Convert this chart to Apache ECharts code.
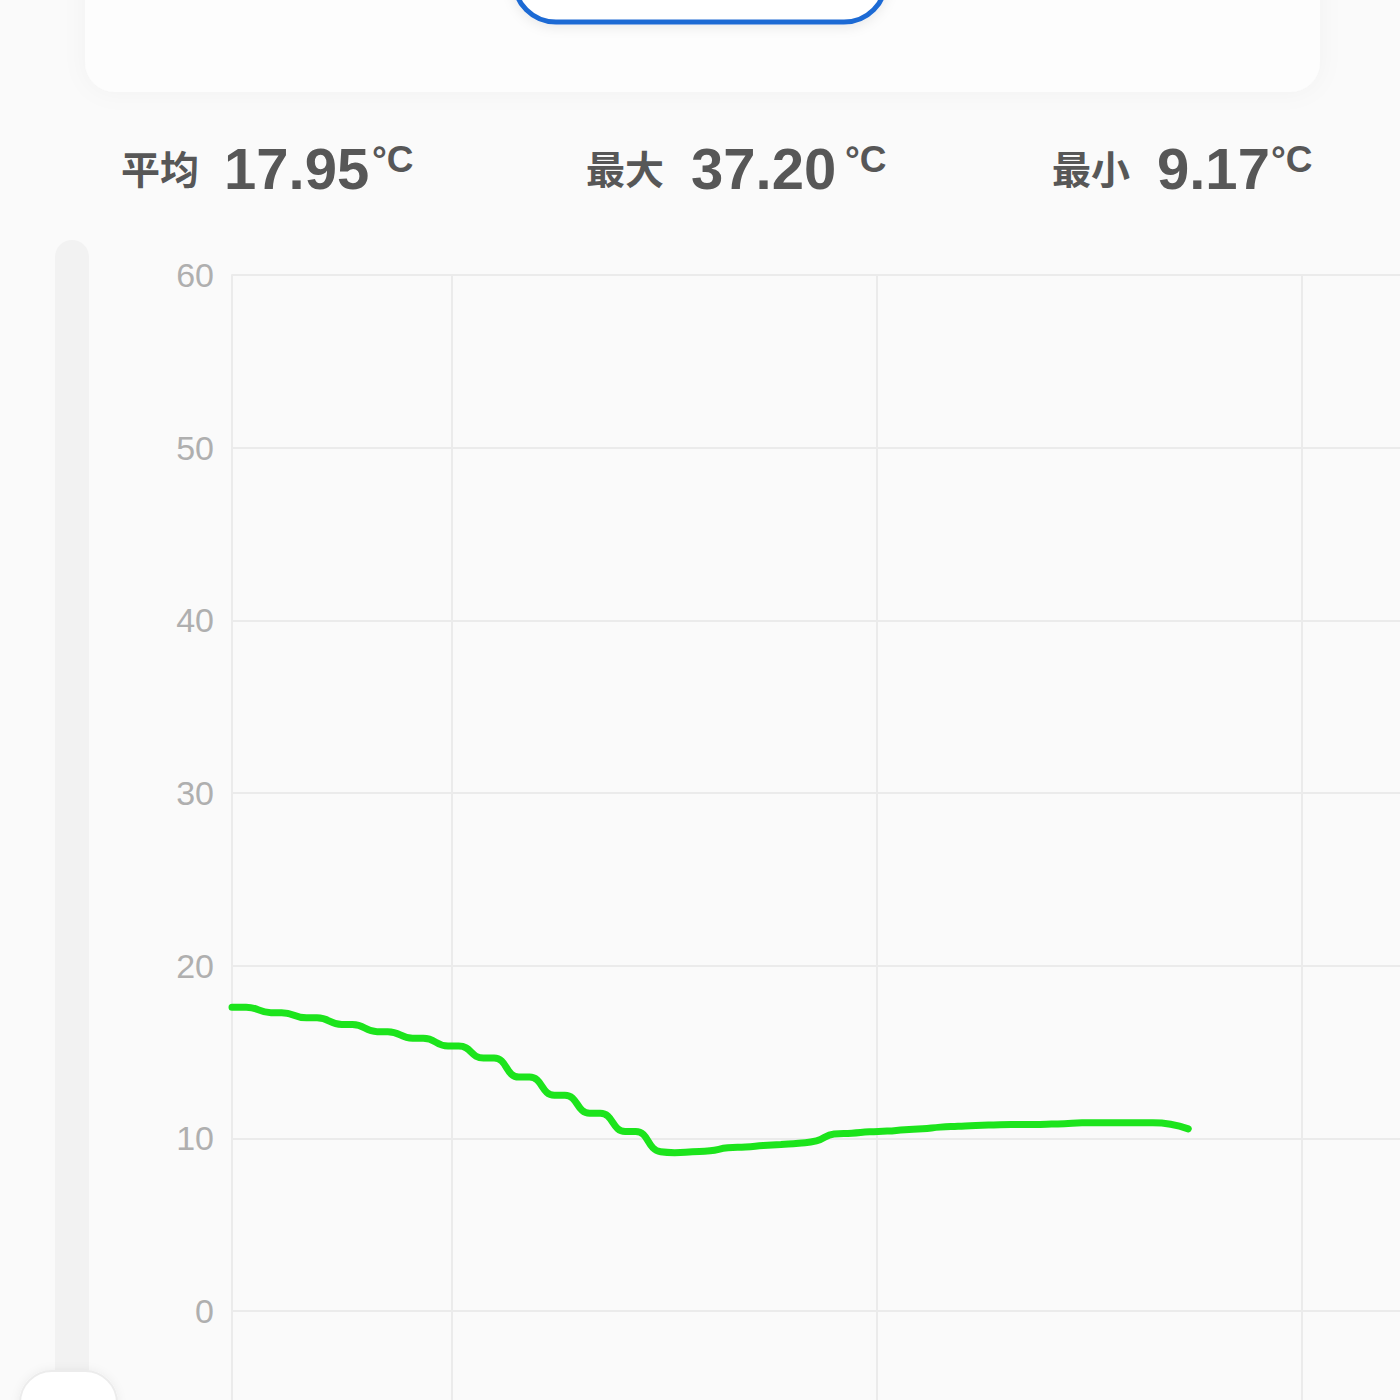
<!DOCTYPE html>
<html>
<head>
<meta charset="utf-8">
<script src="https://cdn.jsdelivr.net/npm/echarts@6/dist/echarts.min.js"></script>
<style>
html,body{margin:0;padding:0;overflow:hidden;background:#fafafa;width:1400px;height:1400px;}
#chart{width:1800px;height:1560px;}
</style>
</head>
<body>
<div id="chart"></div>
<script>
// ---- data ----
const day = '2024-05-01';
const times = ['09:29:00','09:31:00','09:34:30','09:36:00','09:39:30','09:41:00','09:44:30','09:46:00','09:49:30','09:51:00',
  '09:54:30','09:56:00','09:59:30','10:01:00','10:04:30','10:06:00','10:09:30','10:11:00','10:14:30','10:16:00',
  '10:19:30','10:21:00','10:24:30','10:26:00','10:29:30','10:31:30','10:34:00','10:36:30','10:39:00','10:41:30',
  '10:44:00','10:46:30','10:49:00','10:51:30','10:54:00','10:56:30','10:59:00','11:01:30','11:04:00','11:06:30',
  '11:09:00','11:11:30','11:14:00','11:16:30','11:19:00','11:21:30','11:24:00','11:26:30','11:29:00','11:31:30',
  '11:34:00','11:36:30','11:39:00','11:41:30','11:44:00'];
const temps = [17.6,17.6,17.28,17.28,16.98,16.98,16.6,16.6,16.18,16.18,
  15.8,15.8,15.35,15.35,14.65,14.65,13.55,13.55,12.5,12.5,
  11.45,11.45,10.4,10.4,9.22,9.17,9.22,9.28,9.45,9.5,
  9.58,9.65,9.72,9.85,10.25,10.3,10.38,10.42,10.5,10.55,
  10.65,10.7,10.75,10.78,10.8,10.8,10.82,10.85,10.9,10.9,
  10.9,10.9,10.9,10.82,10.55];
const axisStart = '09:29:00';
const axisEnd = '13:00:00';
const yTicks = [-10, 0, 10, 20, 30, 40, 50, 60];
const stats = [
  {label: '平均', value: '17.95', unit: '°C'},
  {label: '最大', value: '37.20', unit: '°C'},
  {label: '最小', value: '9.17', unit: '°C'}
];

function ts(t) {
  const p = day.split('-').map(Number);
  const q = t.split(':').map(Number);
  return new Date(p[0], p[1] - 1, p[2], q[0], q[1], q[2]).getTime();
}
const seriesData = times.map((t, i) => [ts(t), temps[i]]);

const statPos = [
  {lx: 121, vx: 224, ux: 372},
  {lx: 586, vx: 691, ux: 845},
  {lx: 1052, vx: 1157, ux: 1271}
];
const textColor = '#575757';
const graphics = [
  {type: 'rect', shape: {x: 85, y: -40, width: 1235, height: 132, r: 30},
   style: {fill: '#fdfdfd', shadowBlur: 24, shadowColor: 'rgba(0,0,0,0.035)'}, z: 1},
  {type: 'rect', shape: {x: 514, y: -62, width: 372, height: 84, r: 42},
   style: {fill: '#ffffff', stroke: '#1f6ad4', lineWidth: 5, shadowBlur: 12, shadowColor: 'rgba(0,0,0,0.08)', shadowOffsetY: 3}, z: 2},
  {type: 'rect', shape: {x: 55, y: 240, width: 34, height: 1250, r: 17},
   style: {fill: '#f2f2f2'}, z: 1},
  {type: 'rect', shape: {x: 20, y: 1371, width: 97, height: 90, r: 32},
   style: {fill: '#ffffff', stroke: '#ececec', lineWidth: 2, shadowBlur: 10, shadowColor: 'rgba(0,0,0,0.06)'}, z: 2}
];
stats.forEach((s, i) => {
  const p = statPos[i];
  graphics.push({type: 'text', x: p.lx, y: 167, z: 5,
    style: {text: s.label, fill: textColor, font: 'bold 39px "Noto Sans CJK SC"', align: 'left', verticalAlign: 'middle'}});
  graphics.push({type: 'text', x: p.vx, y: 168, z: 5,
    style: {text: s.value, fill: textColor, font: 'bold 58px "Liberation Sans", Arial, sans-serif', align: 'left', verticalAlign: 'middle'}});
  graphics.push({type: 'text', x: p.ux, y: 159, z: 5,
    style: {text: s.unit, fill: textColor, font: 'bold 37px "Liberation Sans", Arial, sans-serif', align: 'left', verticalAlign: 'middle'}});
});

const chart = echarts.init(document.getElementById('chart'), null, {renderer: 'svg'});
const gridLine = {show: true, lineStyle: {color: '#ebebeb', width: 2}};
chart.setOption({
  backgroundColor: '#fafafa',
  animation: false,
  graphic: graphics,
  grid: {left: 232, top: 275, right: 1800 - 1726.6, bottom: 1560 - 1483.7, containLabel: false},
  xAxis: {
    type: 'time',
    min: ts(axisStart),
    max: ts(axisEnd),
    minInterval: 3600 * 1000,
    maxInterval: 3600 * 1000,
    axisLine: {show: false},
    axisTick: {show: false},
    axisLabel: {show: false},
    splitLine: gridLine
  },
  yAxis: {
    type: 'value',
    min: yTicks[0],
    max: yTicks[yTicks.length - 1],
    interval: 10,
    axisLine: {show: true, lineStyle: {color: '#ebebeb', width: 2}},
    axisTick: {show: false},
    axisLabel: {color: '#afafaf', fontSize: 34, fontFamily: '"Liberation Sans", Arial, sans-serif', margin: 18,
      formatter: v => (v < 0 ? '' : String(v))},
    splitLine: gridLine
  },
  series: [{
    type: 'line',
    data: seriesData,
    smooth: 0.5,
    showSymbol: false,
    symbol: 'none',
    lineStyle: {color: '#1ce41c', width: 7, cap: 'round'},
    z: 3
  }]
});
</script>
</body>
</html>
